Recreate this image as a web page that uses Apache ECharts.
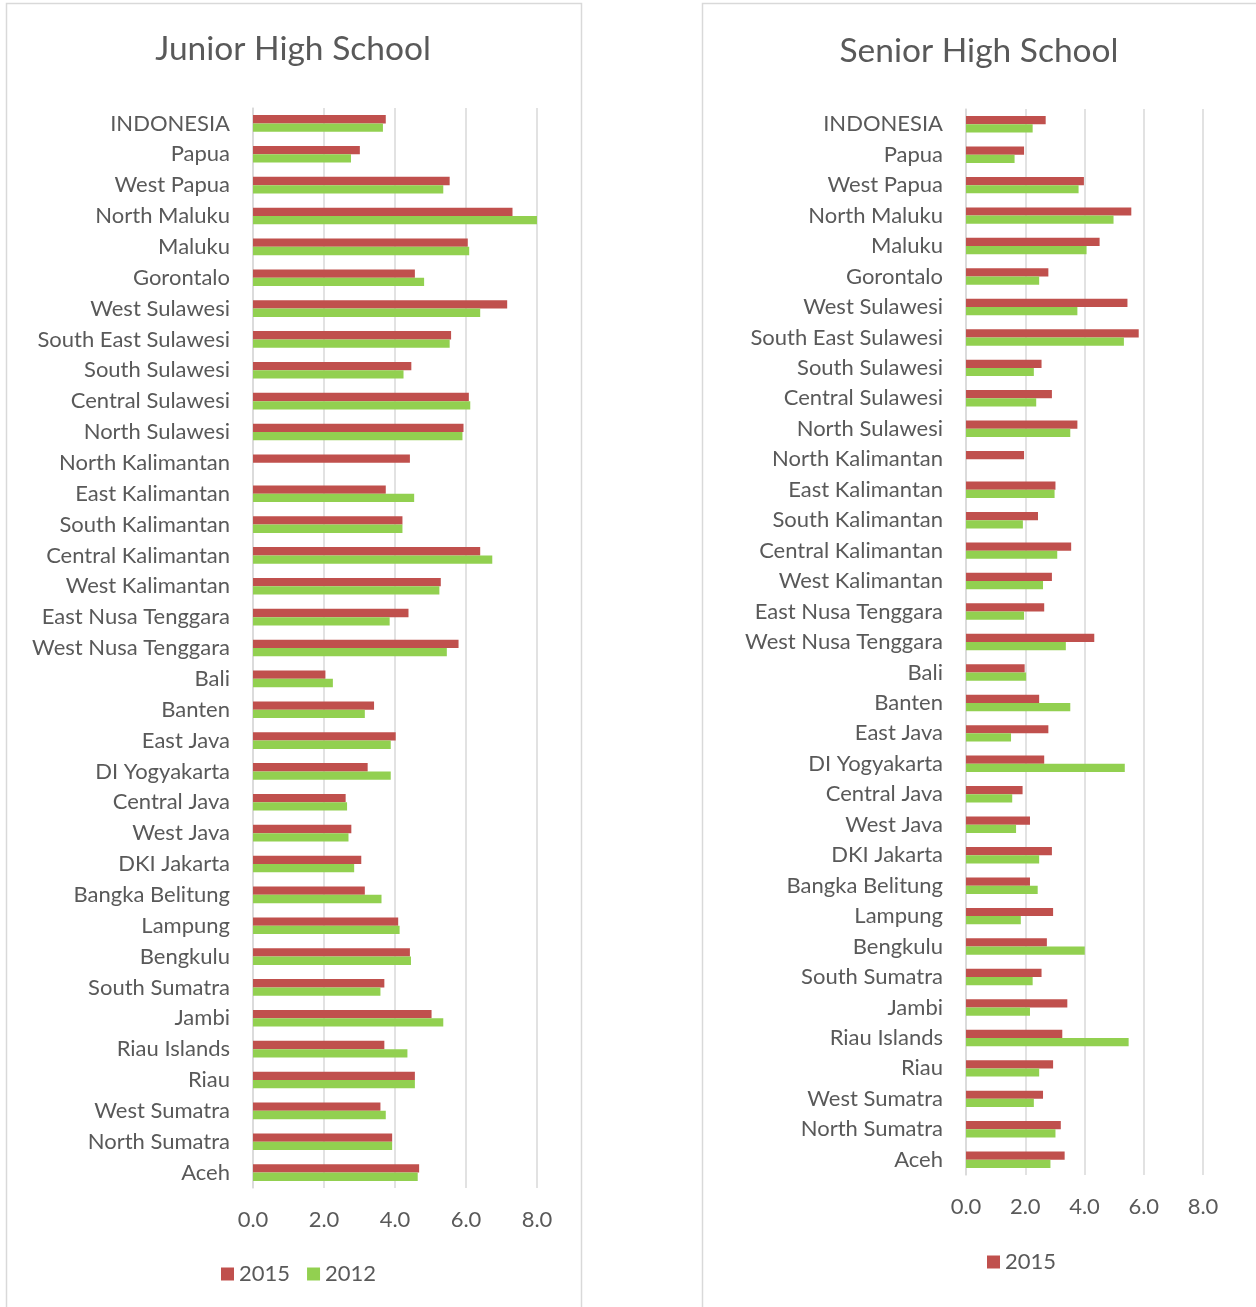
<!DOCTYPE html>
<html>
<head>
<meta charset="utf-8">
<script src="https://cdn.jsdelivr.net/npm/echarts@6/dist/echarts.min.js"></script>
<style>
  html, body { margin: 0; padding: 0; background: #fff; }
  #chart { width: 1256px; height: 1307px; }
</style>
</head>
<body>
<div id="chart"></div>
<script>
// Provinces, listed top to bottom as displayed
const provinces = [
  'INDONESIA', 'Papua', 'West Papua', 'North Maluku', 'Maluku', 'Gorontalo',
  'West Sulawesi', 'South East Sulawesi', 'South Sulawesi', 'Central Sulawesi',
  'North Sulawesi', 'North Kalimantan', 'East Kalimantan', 'South Kalimantan',
  'Central Kalimantan', 'West Kalimantan', 'East Nusa Tenggara', 'West Nusa Tenggara',
  'Bali', 'Banten', 'East Java', 'DI Yogyakarta', 'Central Java', 'West Java',
  'DKI Jakarta', 'Bangka Belitung', 'Lampung', 'Bengkulu', 'South Sumatra',
  'Jambi', 'Riau Islands', 'Riau', 'West Sumatra', 'North Sumatra', 'Aceh'
];

// Junior High School
const jhs2015 = [3.74, 3.01, 5.54, 7.31, 6.05, 4.56, 7.16, 5.58, 4.46, 6.08,
  5.93, 4.42, 3.74, 4.21, 6.40, 5.29, 4.38, 5.79, 2.04, 3.41, 4.02, 3.23,
  2.61, 2.77, 3.05, 3.15, 4.09, 4.42, 3.70, 5.03, 3.70, 4.56, 3.59, 3.92, 4.68];
const jhs2012 = [3.66, 2.76, 5.36, 8.02, 6.09, 4.82, 6.40, 5.54, 4.24, 6.12,
  5.90, null, 4.54, 4.21, 6.74, 5.25, 3.85, 5.46, 2.25, 3.15, 3.88, 3.88,
  2.65, 2.69, 2.85, 3.62, 4.13, 4.45, 3.59, 5.36, 4.35, 4.56, 3.74, 3.92, 4.64];

// Senior High School
const shs2015 = [2.69, 1.96, 3.98, 5.58, 4.51, 2.78, 5.45, 5.83, 2.55, 2.90,
  3.76, 1.96, 3.02, 2.43, 3.55, 2.90, 2.64, 4.33, 1.98, 2.47, 2.78, 2.64,
  1.91, 2.16, 2.90, 2.16, 2.94, 2.73, 2.55, 3.42, 3.25, 2.94, 2.60, 3.20, 3.33];
const shs2012 = [2.25, 1.64, 3.80, 4.98, 4.07, 2.47, 3.76, 5.33, 2.29, 2.37,
  3.52, null, 2.99, 1.92, 3.08, 2.60, 1.96, 3.37, 2.03, 3.52, 1.52, 5.36,
  1.56, 1.69, 2.47, 2.42, 1.85, 4.01, 2.25, 2.16, 5.49, 2.47, 2.29, 3.02, 2.85];

const valueTicks = { min: 0, max: 8, interval: 2 };

const RED = '#c0504d';
const GREEN = '#92d050';
const TEXT = '#595959';
const GRID_LINE = '#d9d9d9';
const FONT = 'Lato';

function valueAxis(gridIndex) {
  return {
    type: 'value', gridIndex,
    min: valueTicks.min, max: valueTicks.max, interval: valueTicks.interval,
    axisLine: { show: false },
    axisTick: { show: false },
    splitLine: { lineStyle: { color: GRID_LINE, width: 1.5 } },
    axisLabel: {
      color: TEXT, fontFamily: FONT, fontSize: 22, margin: 21,
      formatter: v => v.toFixed(1)
    }
  };
}

function categoryAxis(gridIndex) {
  return {
    type: 'category', gridIndex, data: provinces, inverse: true,
    axisLine: { show: true, lineStyle: { color: GRID_LINE, width: 1.5 } },
    axisTick: { show: false },
    axisLabel: { color: TEXT, fontFamily: FONT, fontSize: 22, margin: 23 }
  };
}

function barSeries(name, data, color, idx) {
  return {
    name, type: 'bar', data,
    xAxisIndex: idx, yAxisIndex: idx,
    barGap: '0%', barCategoryGap: '46%',
    itemStyle: { color },
    emphasis: { disabled: true },
    animation: false
  };
}

const chart = echarts.init(document.getElementById('chart'), null, { renderer: 'canvas' });

chart.setOption({
  backgroundColor: '#ffffff',
  animation: false,
  graphic: [
    { type: 'rect', shape: { x: 6.5, y: 3.5, width: 575, height: 1320 },
      style: { fill: 'none', stroke: GRID_LINE, lineWidth: 1.5 }, silent: true },
    { type: 'rect', shape: { x: 702.5, y: 3.5, width: 575, height: 1320 },
      style: { fill: 'none', stroke: GRID_LINE, lineWidth: 1.5 }, silent: true }
  ],
  title: [
    { text: 'Junior High School', left: 288, top: 27, textAlign: 'center',
      textStyle: { color: TEXT, fontFamily: FONT, fontSize: 33.5, fontWeight: 'normal' } },
    { text: 'Senior High School', left: 974, top: 29, textAlign: 'center',
      textStyle: { color: TEXT, fontFamily: FONT, fontSize: 33.5, fontWeight: 'normal' } }
  ],
  legend: [
    { data: ['2015', '2012'], left: 216, top: 1258, itemWidth: 13, itemHeight: 13,
      itemGap: 17, itemTextGap: 6, icon: 'rect',
      textStyle: { color: TEXT, fontFamily: FONT, fontSize: 22 } },
    { data: ['2015'], left: 982, top: 1246, itemWidth: 13, itemHeight: 13,
      itemTextGap: 6, icon: 'rect',
      textStyle: { color: TEXT, fontFamily: FONT, fontSize: 22 } }
  ],
  grid: [
    { left: 253, top: 108, width: 284, height: 1080, containLabel: false },
    { left: 966, top: 109, width: 237, height: 1066, containLabel: false }
  ],
  xAxis: [valueAxis(0), valueAxis(1)],
  yAxis: [categoryAxis(0), categoryAxis(1)],
  series: [
    barSeries('2015', jhs2015, RED, 0),
    barSeries('2012', jhs2012, GREEN, 0),
    barSeries('2015', shs2015, RED, 1),
    barSeries('2012', shs2012, GREEN, 1)
  ]
});
</script>
</body>
</html>
